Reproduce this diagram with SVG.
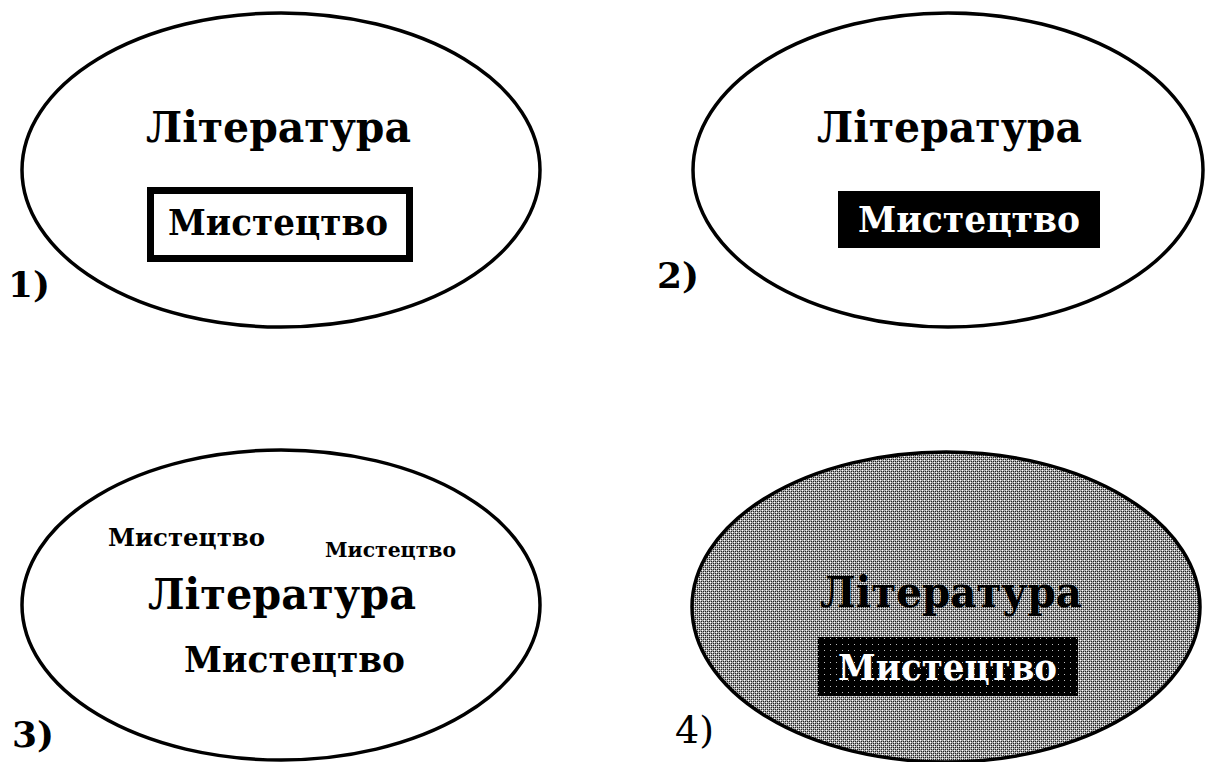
<svg xmlns="http://www.w3.org/2000/svg" width="1210" height="762" viewBox="0 0 1210 762">
<style>
.ell{fill:#fff;stroke:#000;stroke-width:3.5}
.t{font-family:"DejaVu Serif","Liberation Serif",serif;font-weight:bold;fill:#000}
.w{fill:#fff}
.lbl{font-family:"DejaVu Serif","Liberation Serif",serif;font-weight:bold;font-size:36px;fill:#000}
</style>
<defs>
<pattern id="halftone" width="4" height="4" patternUnits="userSpaceOnUse">
<rect width="4" height="4" fill="#a8a8a8"/>
<rect x="0" y="0" width="1" height="1" fill="#fff"/>
<rect x="2" y="2" width="1" height="1" fill="#fff"/>
<rect x="1" y="1" width="1" height="1" fill="#222"/>
<rect x="3" y="3" width="1" height="1" fill="#222"/>
<rect x="3" y="1" width="1" height="1" fill="#222"/>
<rect x="1" y="3" width="1" height="1" fill="#222"/>
</pattern>
<pattern id="dots" width="6" height="6" patternUnits="userSpaceOnUse">
<rect width="6" height="6" fill="#000"/>
<rect x="2" y="2" width="1" height="1" fill="#bbb"/>
</pattern>
</defs>
<g id="node1">
<ellipse class="ell" cx="281" cy="170" rx="259" ry="157"/>
<text class="t" x="146" y="142" font-size="43" textLength="265" lengthAdjust="spacingAndGlyphs">Література</text>
<rect x="150.5" y="190.5" width="259" height="68" fill="#fff" stroke="#000" stroke-width="7"/>
<text class="t" x="168" y="235" font-size="35" textLength="220" lengthAdjust="spacingAndGlyphs">Мистецтво</text>
<text class="lbl" x="8" y="297">1)</text>
</g>
<g id="node2">
<ellipse class="ell" cx="948" cy="170" rx="255" ry="157"/>
<text class="t" x="817" y="142" font-size="43" textLength="265" lengthAdjust="spacingAndGlyphs">Література</text>
<rect x="838" y="191" width="262" height="57" fill="#000"/>
<text class="t w" x="858" y="232" font-size="35" textLength="222" lengthAdjust="spacingAndGlyphs">Мистецтво</text>
<text class="lbl" x="657" y="288">2)</text>
</g>
<g id="node3">
<ellipse class="ell" cx="281" cy="605" rx="259" ry="155"/>
<text class="t" x="108" y="546" font-size="24" textLength="157" lengthAdjust="spacingAndGlyphs">Мистецтво</text>
<text class="t" x="325" y="557" font-size="21" textLength="131" lengthAdjust="spacingAndGlyphs">Мистецтво</text>
<text class="t" x="148" y="609" font-size="43" textLength="268" lengthAdjust="spacingAndGlyphs">Література</text>
<text class="t" x="184" y="672" font-size="35" textLength="221" lengthAdjust="spacingAndGlyphs">Мистецтво</text>
<text class="lbl" x="12" y="747" font-size="37">3)</text>
</g>
<g id="node4">
<ellipse cx="946" cy="607" rx="254" ry="155" fill="url(#halftone)" stroke="#000" stroke-width="3.5"/>
<text class="t" x="820" y="607" font-size="43" textLength="262" lengthAdjust="spacingAndGlyphs">Література</text>
<rect x="818" y="637" width="260" height="59" fill="url(#dots)"/>
<text class="t w" x="838" y="680" font-size="35" textLength="219" lengthAdjust="spacingAndGlyphs">Мистецтво</text>
<text x="675" y="743" font-family="'DejaVu Serif','Liberation Serif',serif" font-size="38" fill="#000">4)</text>
</g>
</svg>
